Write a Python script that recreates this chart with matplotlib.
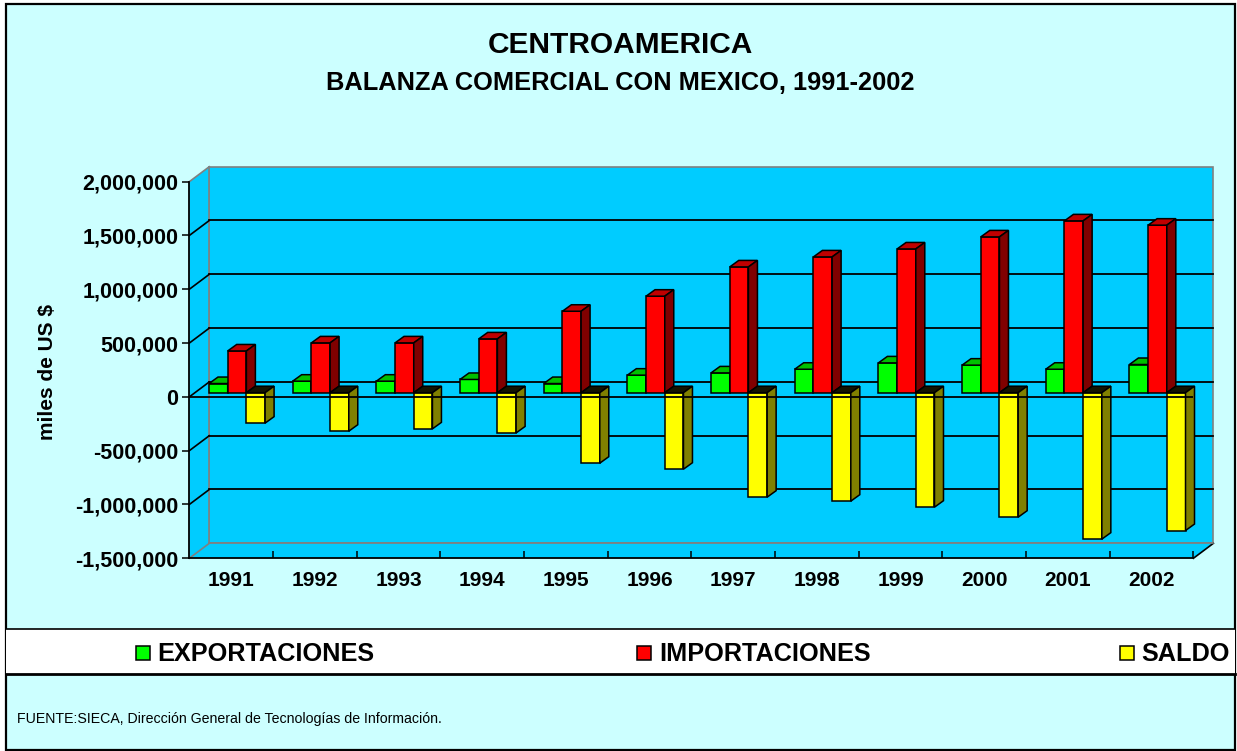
import numpy as np
import matplotlib
matplotlib.use("Agg")
import matplotlib.pyplot as plt
from matplotlib.patches import Rectangle, Polygon
from matplotlib.ticker import StrMethodFormatter

plt.rcParams['font.family'] = ['Liberation Sans', 'DejaVu Sans']
plt.rcParams['axes.unicode_minus'] = False

# ---------------- data ----------------
years = ['1991', '1992', '1993', '1994', '1995', '1996',
         '1997', '1998', '1999', '2000', '2001', '2002']
exportaciones = [85000, 107000, 107000, 123000, 85000, 163000,
                 184000, 218000, 277000, 256000, 218000, 262000]
importaciones = [388000, 463000, 463000, 500000, 757000, 897000,
                 1169000, 1262000, 1336000, 1448000, 1597000, 1557000]
saldo = [-283000, -358000, -336000, -374000, -655000, -711000,
         -971000, -1008000, -1064000, -1157000, -1361000, -1281000]
series_names = ['EXPORTACIONES', 'IMPORTACIONES', 'SALDO']
y_ticks = [-1500000, -1000000, -500000, 0, 500000, 1000000, 1500000, 2000000]

# ---------------- style ----------------
W, H = 1237, 751
BG = '#CCFFFF'
WALL = '#00CCFF'
GRAY = '#808080'
front_cols = ['#00FF00', '#FF0000', '#FFFF00']
top_cols = ['#00C000', '#C00000', '#141400']
side_cols = ['#008000', '#800000', '#808000']

def fx(x):
    return x / W

def fy(y):
    return 1 - y / H

fig = plt.figure(figsize=(W / 100, H / 100), dpi=100)
fig.patch.set_facecolor('white')

# outer frame
fig.add_artist(Rectangle((fx(6), fy(750)), fx(1235) - fx(6), fy(4) - fy(750),
                         transform=fig.transFigure, facecolor=BG,
                         edgecolor='black', lw=1.6, zorder=0))
# legend band
fig.add_artist(Rectangle((fx(6), fy(674)), fx(1235) - fx(6), fy(629.3) - fy(674),
                         transform=fig.transFigure, facecolor='white',
                         edgecolor='none', zorder=0.5))
fig.add_artist(plt.Line2D([fx(6), fx(1235)], [fy(629.3)] * 2,
                          transform=fig.transFigure, color='black', lw=1.2))
fig.add_artist(plt.Line2D([fx(6), fx(1235)], [fy(674)] * 2,
                          transform=fig.transFigure, color='black', lw=2.0))

# ---------------- axes (front plane) ----------------
L, R, T, B = 189.3, 1193.4, 181.7, 558.3
ax = fig.add_axes([fx(L), fy(B), fx(R) - fx(L), fy(T) - fy(B)])
ax.set_xlim(-0.5, len(years) - 0.5)
ax.set_ylim(y_ticks[0], y_ticks[-1])
ax.patch.set_visible(False)

px_cat = (R - L) / len(years)
px_val = (B - T) / (y_ticks[-1] - y_ticks[0])
WX, WY = 20 / px_cat, 15 / px_val          # wall depth
BX0, BY0 = 5.9 / px_cat, 4.2 / px_val       # bar front-face depth offset
DX, DY = 9 / px_cat, 6.5 / px_val           # bar depth
BW = 18.7 / px_cat                          # bar width

x0, x1 = -0.5, len(years) - 0.5
ymin, ymax = y_ticks[0], y_ticks[-1]

# back wall
ax.add_patch(Rectangle((x0 + WX, ymin + WY), x1 - x0, ymax - ymin,
                       facecolor=WALL, edgecolor=GRAY, lw=1.2,
                       clip_on=False, zorder=0.6))
# side wall and floor
ax.add_patch(Polygon([(x0, ymin), (x0, ymax), (x0 + WX, ymax + WY), (x0 + WX, ymin + WY)],
                     closed=True, facecolor=WALL, edgecolor='none', clip_on=False, zorder=0.7))
ax.add_patch(Polygon([(x0, ymin), (x1, ymin), (x1 + WX, ymin + WY), (x0 + WX, ymin + WY)],
                     closed=True, facecolor=WALL, edgecolor='none', clip_on=False, zorder=0.7))
ax.plot([x1, x1 + WX], [ymin, ymin + WY], color='black', lw=1.2, clip_on=False, zorder=1)
ax.plot([x0 + WX, x1 + WX], [ymin + WY] * 2, color=GRAY, lw=1.2, clip_on=False, zorder=1)
ax.plot([x0 + WX, x0 + WX], [ymin + WY, ymax + WY], color=GRAY, lw=1.2, clip_on=False, zorder=1)

# grid lines on back wall + diagonals on side wall
for v in y_ticks:
    edge = v in (ymin, ymax)
    col = GRAY if edge else 'black'
    if not edge:
        ax.plot([x0 + WX, x1 + WX], [v + WY] * 2, color='black', lw=1.3,
                clip_on=False, zorder=1.2)
    ax.plot([x0, x0 + WX], [v, v + WY], color=col, lw=1.2, clip_on=False, zorder=1.2)

# ---------------- bars ----------------
xpos = np.arange(len(years))
all_series = [exportaciones, importaciones, saldo]
for k, vals in enumerate(all_series):
    z = 3 + k
    bars = ax.bar(xpos + (k - 1) * BW + BX0, vals, width=BW, bottom=BY0,
                  color=front_cols[k], edgecolor='black', linewidth=1.1,
                  zorder=z, label=series_names[k], clip_on=False)
    for rect, v in zip(bars.patches, vals):
        xa = rect.get_x()
        xb = xa + rect.get_width()
        t = BY0 + max(v, 0)
        ax.add_patch(Polygon([(xa, t), (xb, t), (xb + DX, t + DY), (xa + DX, t + DY)],
                             closed=True, facecolor=top_cols[k], edgecolor='black',
                             lw=1.1, zorder=z, clip_on=False))
        ax.add_patch(Polygon([(xb, BY0), (xb, BY0 + v), (xb + DX, BY0 + v + DY), (xb + DX, BY0 + DY)],
                             closed=True, facecolor=side_cols[k], edgecolor='black',
                             lw=1.1, zorder=z, clip_on=False))

# front zero line
ax.axhline(0, color='black', lw=1.3, zorder=7)

# ---------------- axes styling ----------------
for s in ('top', 'right'):
    ax.spines[s].set_visible(False)
for s in ('left', 'bottom'):
    ax.spines[s].set_color('black')
    ax.spines[s].set_linewidth(1.3)
    ax.spines[s].set_zorder(2)

ax.set_yticks(y_ticks)
ax.yaxis.set_major_formatter(StrMethodFormatter('{x:,.0f}'))
ax.tick_params(axis='y', direction='out', length=4.8, width=1.1, pad=3,
               labelsize=15.5, colors='black')
for lab in ax.get_yticklabels():
    lab.set_fontweight('bold')

ax.set_xticks(xpos, labels=years)
ax.set_xticks(np.arange(0.5, len(years)), minor=True)
ax.tick_params(axis='x', which='major', length=0, pad=9.5, labelsize=15)
ax.tick_params(axis='x', which='minor', direction='in', length=4.8, width=1.1)
for lab in ax.get_xticklabels():
    lab.set_fontweight('bold')

# ---------------- texts ----------------
fig.text(fx(620), fy(53), 'CENTROAMERICA', ha='center', va='baseline',
         fontsize=21.5, fontweight='bold')
fig.text(fx(620), fy(90), 'BALANZA COMERCIAL CON MEXICO, 1991-2002', ha='center',
         va='baseline', fontsize=18.3, fontweight='bold')
fig.text(fx(47.5), fy(372), 'miles de US $', rotation=90, ha='center', va='center',
         fontsize=15, fontweight='bold')

# legend
leg_sq_x = [136, 637, 1120]
leg_tx_x = [157, 659, 1141]
for k in range(3):
    fig.add_artist(Rectangle((fx(leg_sq_x[k]), fy(659.5)), 14 / W, 14 / H,
                             transform=fig.transFigure, facecolor=front_cols[k],
                             edgecolor='black', lw=1.1, zorder=2))
    fig.text(fx(leg_tx_x[k]), fy(661), series_names[k], ha='left', va='baseline',
             fontsize=18.2, fontweight='bold')

fig.text(fx(17), fy(723), 'FUENTE:SIECA, Dirección General de Tecnologías de Información.',
         ha='left', va='baseline', fontsize=10.2)

fig.savefig('out.png', dpi=100, facecolor=fig.get_facecolor())
